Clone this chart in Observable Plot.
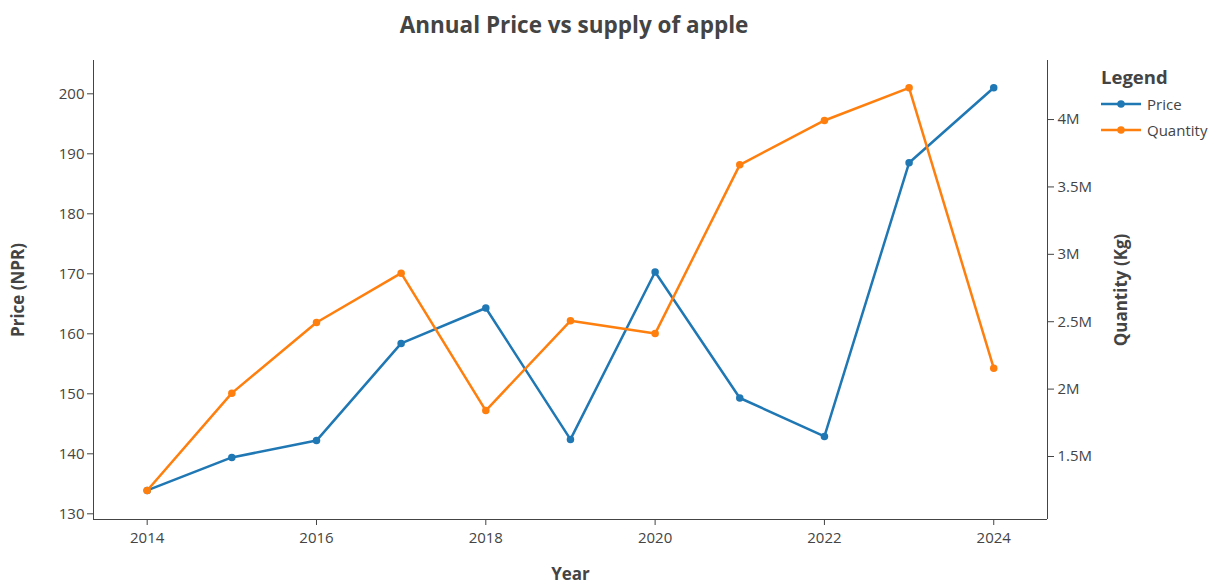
<!DOCTYPE html>
<html>
<head>
<meta charset="utf-8">
<script src="https://cdn.jsdelivr.net/npm/d3@7"></script>
<script src="https://cdn.jsdelivr.net/npm/@observablehq/plot@0.6"></script>
<style>
  body { margin: 0; background: #fff; font-family: "Open Sans", sans-serif; }
  #wrap { position: relative; width: 1212px; height: 586px; overflow: hidden; }
  #title { position: absolute; left: 0; top: 10px; width: 1148px; text-align: center;
           font-weight: bold; font-size: 22.5px; color: #444; line-height: 30px; }
  #legend { position: absolute; left: 1101px; top: 63px; color: #444; font-size: 15px; }
  #legend .head { font-weight: bold; font-size: 18.5px; line-height: 28px; }
  #legend .item { display: flex; align-items: center; height: 26px; }
  #legend svg { margin-right: 6px; }
</style>
</head>
<body>
<div id="wrap">
  <div id="title"></div>
  <div id="chart"></div>
  <div id="legend"></div>
</div>
<script>
// ---- data ----
const titleText = "Annual Price vs supply of apple";
const xLabel = "Year";
const yLabelLeft = "Price (NPR)";
const yLabelRight = "Quantity (Kg)";
const legendTitle = "Legend";
const years = [2014, 2015, 2016, 2017, 2018, 2019, 2020, 2021, 2022, 2023, 2024];
const price = [133.9, 139.4, 142.2, 158.4, 164.3, 142.4, 170.3, 149.3, 142.9, 188.5, 201.0];
const quantity = [1248000, 1970000, 2494000, 2860000, 1841000, 2507000, 2412000, 3664000, 3993000, 4235000, 2155000];
const seriesNames = ["Price", "Quantity"];
const seriesColors = ["#1f77b4", "#ff7f0e"];
const xTicks = [2014, 2016, 2018, 2020, 2022, 2024];
const priceTicks = [130, 140, 150, 160, 170, 180, 190, 200];
const quantityTicks = [1500000, 2000000, 2500000, 3000000, 3500000, 4000000];

// axis ranges
const xRange = [2013.366, 2024.635];
const priceRange = [129.05, 205.55];
const quantityRange = [1032600, 4438000];

const toPrice = q => priceRange[0] + (q - quantityRange[0]) / (quantityRange[1] - quantityRange[0]) * (priceRange[1] - priceRange[0]);
const fromPrice = p => quantityRange[0] + (p - priceRange[0]) / (priceRange[1] - priceRange[0]) * (quantityRange[1] - quantityRange[0]);

const priceRows = years.map((yr, i) => ({year: yr, series: "Price", v: price[i]}));
const quantityRows = years.map((yr, i) => ({year: yr, series: "Quantity", v: toPrice(quantity[i])}));

const axisColor = "#444";
const fmtQ = p => d3.format("~s")(Math.round(fromPrice(p) / 1000) * 1000);

const chart = Plot.plot({
  width: 1212,
  height: 586,
  marginLeft: 93,
  marginRight: 165,
  marginTop: 60,
  marginBottom: 67,
  style: {fontFamily: "Open Sans", fontSize: "15px", color: axisColor, background: "#fff", overflow: "visible"},
  x: {domain: xRange},
  y: {domain: priceRange},
  color: {domain: seriesNames, range: seriesColors},
  marks: [
    Plot.ruleX([xRange[0], xRange[1]], {stroke: axisColor, strokeWidth: 1}),
    Plot.ruleY([priceRange[0]], {stroke: axisColor, strokeWidth: 1}),
    Plot.axisX({ticks: xTicks, tickFormat: d => String(d), tickSize: 6, tickPadding: 7, label: null, stroke: axisColor, fill: axisColor}),
    Plot.axisY({ticks: priceTicks, tickSize: 6, tickPadding: 3, label: null, stroke: axisColor, fill: axisColor}),
    Plot.axisY(quantityTicks.map(toPrice), {anchor: "right", tickSize: 6, tickPadding: 4, tickFormat: fmtQ, label: null, stroke: axisColor, fill: axisColor}),
    Plot.lineY(priceRows, {x: "year", y: "v", stroke: "series", strokeWidth: 2.5}),
    Plot.dot(priceRows, {x: "year", y: "v", fill: "series", r: 3.75}),
    Plot.lineY(quantityRows, {x: "year", y: "v", stroke: "series", strokeWidth: 2.5}),
    Plot.dot(quantityRows, {x: "year", y: "v", fill: "series", r: 3.75}),
    Plot.text([yLabelLeft], {frameAnchor: "left", dx: -75, rotate: -90, textAnchor: "middle", fontWeight: "bold", fontSize: 17, fill: axisColor}),
    Plot.text([yLabelRight], {frameAnchor: "right", dx: 74, rotate: -90, textAnchor: "middle", fontWeight: "bold", fontSize: 17, fill: axisColor}),
    Plot.text([xLabel], {frameAnchor: "bottom", dy: 55, lineAnchor: "middle", fontWeight: "bold", fontSize: 17, fill: axisColor})
  ]
});
document.getElementById("chart").appendChild(chart);
document.getElementById("title").textContent = titleText;

// legend
const legend = document.getElementById("legend");
const head = document.createElement("div");
head.className = "head";
head.textContent = legendTitle;
legend.appendChild(head);
seriesNames.forEach((name, i) => {
  const item = document.createElement("div");
  item.className = "item";
  item.innerHTML = `<svg width="40" height="10"><line x1="0" y1="5" x2="40" y2="5" stroke="${seriesColors[i]}" stroke-width="2.5"/><circle cx="20" cy="5" r="3.75" fill="${seriesColors[i]}"/></svg>`;
  const span = document.createElement("span");
  span.textContent = name;
  item.appendChild(span);
  legend.appendChild(item);
});
</script>
</body>
</html>
